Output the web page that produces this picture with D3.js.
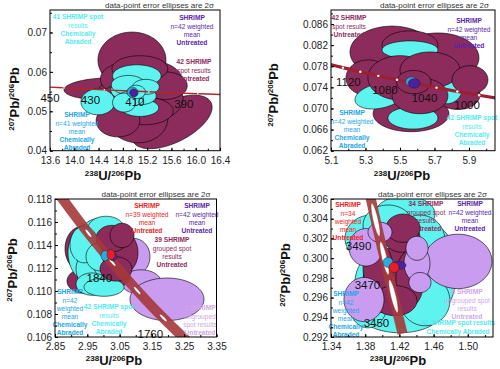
<!DOCTYPE html>
<html>
<head>
<meta charset="utf-8">
<script src="https://cdn.jsdelivr.net/npm/d3@7"></script>
<style>
  body { margin: 0; background: #fff; }
  text { font-family: Arial, "Liberation Sans", sans-serif; }
</style>
</head>
<body>
<script>
// ellipses are [x, y, half-width x, half-width y, rho]  (2 sigma)

// ---- panel 1 (~410 Ma) ----
var p1XTicks = [13.6, 14.0, 14.4, 14.8, 15.2, 15.6, 16.0, 16.4];
var p1YTicks = [0.04, 0.05, 0.06, 0.07];
var p1Ages = [460, 450, 430, 410, 390, 380];
var p1ConX = [13.520, 13.831, 14.497, 15.228, 16.034, 16.469];
var p1ConY = [0.05620, 0.05594, 0.05544, 0.05494, 0.05446, 0.05421];
var p1Labels = [450, 430, 410, 390];
var p1Untreated = [
  [14.95, 0.0630, 0.56, 0.0071, 0],
  [14.54, 0.0557, 0.71, 0.0028, 0.1],
  [15.61, 0.0473, 0.66, 0.0068, 0.55],
  [15.05, 0.0481, 0.49, 0.0061, 0],
  [15.25, 0.0577, 0.53, 0.0051, 0],
  [15.00, 0.0539, 0.63, 0.0056, 0],
  [15.38, 0.0532, 0.41, 0.0051, 0],
  [14.84, 0.0582, 0.41, 0.0041, 0],
  [15.17, 0.0501, 0.46, 0.0035, 0],
  [15.50, 0.0565, 0.36, 0.0035, 0],
  [14.75, 0.0522, 0.33, 0.0046, 0],
  [15.08, 0.0608, 0.46, 0.0033, 0],
  [14.72, 0.0476, 0.36, 0.0041, 0]
];
var p1Abraded = [
  [14.39, 0.0524, 0.28, 0.0033, 0],
  [15.03, 0.0590, 0.40, 0.0028, 0],
  [15.08, 0.0509, 0.31, 0.0022, 0],
  [14.97, 0.0554, 0.37, 0.0029, 0],
  [14.89, 0.0567, 0.28, 0.0024, 0],
  [15.10, 0.0539, 0.25, 0.0022, 0],
  [14.92, 0.0532, 0.22, 0.0019, 0],
  [15.18, 0.0562, 0.22, 0.0019, 0],
  [14.82, 0.0522, 0.19, 0.0024, 0],
  [15.02, 0.0549, 0.15, 0.0017, 0]
];
var p1Means = [
  [14.96, 0.05480, 0.09, 0.0013, 0],
  [14.98, 0.05468, 0.066, 0.0010, 0]
];

// ---- panel 2 (~1060 Ma) ----
var p2XTicks = [5.1, 5.3, 5.5, 5.7, 5.9];
var p2YTicks = [0.062, 0.066, 0.070, 0.074, 0.078, 0.082, 0.086];
var p2Ages = [1160, 1140, 1120, 1100, 1080, 1060, 1040, 1020, 1000, 960];
var p2ConX = [5.0720, 5.1693, 5.2700, 5.3744, 5.4826, 5.5956, 5.7118, 5.8329, 5.9589, 6.2272];
var p2ConY = [0.07851, 0.07773, 0.07695, 0.07618, 0.07543, 0.07469, 0.07394, 0.07321, 0.07250, 0.07109];
var p2Labels = [1120, 1080, 1040, 1000];
var p2Untreated = [
  [5.454, 0.0807, 0.244, 0.0049, 0],
  [5.720, 0.0796, 0.238, 0.0047, 0],
  [5.564, 0.0690, 0.220, 0.0034, 0],
  [5.836, 0.0726, 0.128, 0.0028, 0],
  [5.315, 0.0758, 0.128, 0.0034, 0],
  [5.558, 0.0820, 0.162, 0.0027, 0]
];
var p2Abraded = [
  [5.384, 0.0724, 0.145, 0.0025, 0.3],
  [5.575, 0.0682, 0.145, 0.0021, 0],
  [5.773, 0.0743, 0.093, 0.0034, 0],
  [5.558, 0.0811, 0.162, 0.0017, 0],
  [5.645, 0.0763, 0.116, 0.0027, 0],
  [5.471, 0.0773, 0.104, 0.0019, 0]
];
var p2UntreatedTop = [
  [5.500, 0.0758, 0.186, 0.0042, 0],
  [5.674, 0.0773, 0.174, 0.0034, 0],
  [5.616, 0.0724, 0.162, 0.0034, 0],
  [5.906, 0.0754, 0.104, 0.0027, 0],
  [5.580, 0.0750, 0.100, 0.0022, 0]
];
var p2Means = [
  [5.568, 0.07507, 0.035, 0.0009, 0],
  [5.583, 0.07476, 0.035, 0.0009, 0]
];

// ---- panel 3 (~1840 Ma) ----
var p3XTicks = [2.85, 2.95, 3.05, 3.15, 3.25, 3.35];
var p3YTicks = [0.106, 0.108, 0.110, 0.112, 0.114, 0.116, 0.118];
var p3Ages = [1960, 1880, 1840, 1800, 1760, 1700];
var p3ConX = [2.8145, 2.9534, 3.0274, 3.1045, 3.1854, 3.3139];
var p3ConY = [0.12026, 0.11502, 0.11250, 0.11004, 0.10765, 0.10419];
var p3Labels = [1840, 1760];
var p3Ungrouped = [
  [3.0946, 0.11298, 0.0495, 0.00159, 0],
  [3.1163, 0.11078, 0.0619, 0.00106, 0],
  [3.1967, 0.10928, 0.1146, 0.00185, 0]
];
var p3UntreatedBack = [
  [2.9336, 0.11368, 0.0526, 0.00194, 0],
  [2.9398, 0.11086, 0.0526, 0.00106, 0],
  [3.0141, 0.11122, 0.0681, 0.00106, 0]
];
var p3Abraded = [
  [2.9522, 0.11333, 0.0619, 0.00247, 0],
  [2.9893, 0.11439, 0.0681, 0.00194, 0],
  [2.9769, 0.11192, 0.0619, 0.00176, 0],
  [3.0079, 0.11544, 0.0557, 0.00106, 0],
  [3.0203, 0.11245, 0.0526, 0.00150, 0],
  [2.9646, 0.11060, 0.0495, 0.00097, 0],
  [3.0017, 0.11033, 0.0619, 0.00079, 0],
  [2.9398, 0.11404, 0.0433, 0.00159, 0],
  [2.9893, 0.11298, 0.0433, 0.00123, 0],
  [3.0327, 0.11395, 0.0372, 0.00132, 0]
];
var p3Untreated = [
  [3.0512, 0.11333, 0.0557, 0.00194, 0],
  [3.0265, 0.11456, 0.0495, 0.00115, 0],
  [3.0389, 0.11192, 0.0495, 0.00106, 0],
  [3.0574, 0.11483, 0.0372, 0.00106, 0]
];
var p3Means = [
  [3.0048, 0.11307, 0.0124, 0.00044, 0],
  [3.0296, 0.11298, 0.0124, 0.00035, 0],
  [3.0234, 0.11316, 0.0124, 0.00044, 0]
];

// ---- panel 4 (~3470 Ma) ----
var p4XTicks = [1.34, 1.38, 1.42, 1.46, 1.50];
var p4YTicks = [0.292, 0.294, 0.296, 0.298, 0.300, 0.302, 0.304, 0.306];
var p4Ages = [3510, 3490, 3470, 3450, 3430];
var p4ConX = [1.38184, 1.39211, 1.40250, 1.41303, 1.42367];
var p4ConY = [0.30785, 0.30389, 0.29999, 0.29614, 0.29235];
var p4Labels = [3490, 3470, 3450];
var p4Abraded = [
  [1.4207, 0.29957, 0.0421, 0.00408, 0],
  [1.3868, 0.30202, 0.0304, 0.00235, 0],
  [1.4265, 0.30447, 0.0351, 0.00184, 0],
  [1.4581, 0.29876, 0.0292, 0.00459, 0],
  [1.4207, 0.29437, 0.0468, 0.00194, 0],
  [1.3833, 0.29569, 0.0234, 0.00276, 0],
  [1.4067, 0.30335, 0.0292, 0.00204, 0],
  [1.4441, 0.30182, 0.0292, 0.00255, 0],
  [1.3973, 0.29753, 0.0292, 0.00306, 0],
  [1.4499, 0.29569, 0.0292, 0.00255, 0]
];
var p4Untreated = [
  [1.4102, 0.29773, 0.0327, 0.00327, 0],
  [1.4230, 0.30212, 0.0211, 0.00153, 0],
  [1.4324, 0.29794, 0.0164, 0.00286, 0],
  [1.4242, 0.30304, 0.0199, 0.00143, 0],
  [1.3950, 0.29896, 0.0175, 0.00255, 0],
  [1.4149, 0.29569, 0.0257, 0.00153, 0]
];
var p4Ungrouped = [
  [1.4885, 0.29967, 0.0398, 0.00276, 0],
  [1.3786, 0.29580, 0.0234, 0.00224, 0],
  [1.3809, 0.30110, 0.0199, 0.00190, 0],
  [1.4406, 0.29947, 0.0152, 0.00184, 0],
  [1.4406, 0.30100, 0.0129, 0.00122, 0],
  [1.4441, 0.29753, 0.0129, 0.00102, 0],
  [1.3973, 0.30263, 0.0140, 0.00102, 0]
];
var p4Means = [
  [1.4067, 0.29957, 0.0058, 0.00051, 0],
  [1.4195, 0.29927, 0.0082, 0.00041, 0],
  [1.4137, 0.29906, 0.0058, 0.00051, 0]
];

var maroon = "#8c2c5c", cyan = "#5ef3ee", lilac = "#c99cf0",
    skyBlue = "#29abe2", purple = "#4e1f9e", red = "#ed1c24";
var txtCyan = "#52ecec", txtBlue = "#23a6e6", txtPurple = "#5a26aa",
    txtMaroon = "#8e2a5c", txtRed = "#ee1c24", txtLilac = "#d2a6ea";

var panels = [
  {id: 1, left: 50, top: 10, width: 170, height: 140.7,
   xDomain: [13.6, 16.4], yDomain: [0.04, 0.0757], xTicks: p1XTicks, yTicks: p1YTicks,
   xMinor: 0.2, yMinor: 0.005, xFormat: ".1f", yFormat: ".2f",
   layers: [[p1Untreated, maroon], [p1Abraded, cyan]],
   means: p1Means, meanFills: [skyBlue, purple],
   ages: p1Ages, conX: p1ConX, conY: p1ConY, labels: p1Labels, marks: [450, 430, 410, 390],
   band: {color: "#b02828", width: 1.4, mark: "dot", r: 0.9, markFill: "#ddd"},
   labelOff: [-14, 10],
   yTitle: [19, 99], xTitle: [113, 180],
   notes: [
     {x: 78, y: 17, color: txtCyan, lines: [["41 SHRIMP spot", 1], ["results", 0], ["Chemically", 1], ["Abraded", 1]]},
     {x: 192, y: 18, color: txtPurple, lines: [["SHRIMP", 1], ["n=42 weighted", 0], ["mean", 0], ["Untreated", 1]]},
     {x: 194, y: 62, color: txtMaroon, lines: [["42 SHRIMP", 1], ["spot results", 0], ["Untreated", 1]]},
     {x: 77, y: 115, color: txtBlue, lines: [["SHRIMP", 1], ["n=41 weighted", 0], ["mean", 0], ["Chemically", 1], ["Abraded", 1]]}
   ]},
  {id: 2, left: 331, top: 10, width: 164, height: 140.7,
   xDomain: [5.1, 6.051], yDomain: [0.062, 0.08865], xTicks: p2XTicks, yTicks: p2YTicks,
   xMinor: 0.1, yMinor: 0.002, xFormat: ".1f", yFormat: ".3f",
   layers: [[p2Untreated, maroon], [p2Abraded, cyan], [p2UntreatedTop, maroon]],
   means: p2Means, meanFills: [skyBlue, purple],
   ages: p2Ages, conX: p2ConX, conY: p2ConY, labels: p2Labels, marks: [1140, 1120, 1100, 1080, 1060, 1040, 1020, 1000],
   band: {color: "#9a2230", width: 3.2, mark: "dot", r: 1.2, markFill: "#fff"},
   labelOff: [-12, 10],
   yTitle: [278, 95], xTitle: [402, 180],
   notes: [
     {x: 349, y: 18, color: txtMaroon, lines: [["42 SHRIMP", 1], ["spot results", 0], ["Untreated", 1]]},
     {x: 469, y: 21, color: txtPurple, lines: [["SHRIMP", 1], ["n=42 weighted", 0], ["mean", 0], ["Untreated", 1]]},
     {x: 352, y: 113, color: txtBlue, lines: [["SHRIMP", 1], ["n=42 weighted", 0], ["mean", 0], ["Chemically", 1], ["Abraded", 1]]},
     {x: 472, y: 118, color: txtCyan, lines: [["42 SHRIMP spot", 1], ["results", 0], ["Chemically", 1], ["Abraded", 1]]}
   ]},
  {id: 3, left: 55, top: 199, width: 161.5, height: 138,
   xDomain: [2.85, 3.35], yDomain: [0.106, 0.118], xTicks: p3XTicks, yTicks: p3YTicks,
   xMinor: 0.05, yMinor: 0.001, xFormat: ".2f", yFormat: ".3f",
   layers: [[p3Ungrouped, lilac], [p3UntreatedBack, maroon], [p3Abraded, cyan], [p3Untreated, maroon]],
   means: p3Means, meanFills: [skyBlue, purple, red],
   ages: p3Ages, conX: p3ConX, conY: p3ConY, labels: p3Labels, marks: [1880, 1840, 1800, 1760],
   band: {color: "#a5383a", width: 10, opacity: 0.9, mark: "ellipse", rx: 5, ry: 1.3, markFill: "#fff"},
   labelOff: [-13, 16],
   yTitle: [17, 270], xTitle: [114, 365],
   notes: [
     {x: 147, y: 206, color: txtRed, lines: [["SHRIMP", 1], ["n=39 weighted", 0], ["mean", 0], ["Untreated", 1]]},
     {x: 197, y: 206, color: txtPurple, lines: [["SHRIMP", 1], ["n=42 weighted", 0], ["mean", 0], ["Untreated", 1]]},
     {x: 172, y: 240, color: txtMaroon, lines: [["39 SHRIMP", 1], ["grouped spot", 0], ["results", 0], ["Untreated", 1]]},
     {x: 70, y: 292, color: txtBlue, lines: [["SHRIMP", 1], ["n=42", 0], ["weighted", 0], ["mean", 0], ["Chemically", 1], ["Abraded", 1]]},
     {x: 109, y: 307, color: txtCyan, lines: [["42 SHRIMP spot", 1], ["results", 0], ["Chemically", 1], ["Abraded", 1]]},
     {x: 200, y: 308, color: txtLilac, lines: [["3 SHRIMP", 1], ["ungrouped", 0], ["spot results", 0], ["Untreated", 1]]}
   ]},
  {id: 4, left: 331, top: 199, width: 162, height: 138,
   xDomain: [1.34, 1.5295], yDomain: [0.292, 0.306], xTicks: p4XTicks, yTicks: p4YTicks,
   xMinor: 0.02, yMinor: 0.001, xFormat: ".2f", yFormat: ".3f",
   layers: [[p4Abraded, cyan], [p4Untreated, maroon], [p4Ungrouped, lilac]],
   means: p4Means, meanFills: [skyBlue, purple, red],
   ages: p4Ages, conX: p4ConX, conY: p4ConY, labels: p4Labels, marks: [3490, 3470, 3450],
   band: {color: "#a5383a", width: 10, opacity: 0.9, mark: "ellipse", rx: 17, ry: 2.6, markFill: "#fff"},
   labelOff: [-17, 26.5],
   yTitle: [290, 275], xTitle: [398, 365],
   notes: [
     {x: 348, y: 205, color: txtRed, lines: [["SHRIMP", 1], ["n=34", 0], ["weighted", 0], ["mean", 0], ["Untreated", 1]]},
     {x: 426, y: 204, color: txtMaroon, lines: [["34 SHRIMP", 1], ["grouped spot", 0], ["results", 0], ["Untreated", 1]]},
     {x: 470, y: 204, color: txtPurple, lines: [["SHRIMP", 1], ["n=42 weighted", 0], ["mean", 0], ["Untreated", 1]]},
     {x: 346, y: 294, color: txtBlue, lines: [["SHRIMP", 1], ["n=42", 0], ["weighted", 0], ["mean", 0], ["Chemically", 1], ["Abraded", 1]]},
     {x: 467, y: 292, color: txtLilac, lines: [["8 SHRIMP", 1], ["ungrouped spot", 0], ["results", 0], ["Untreated", 1]]},
     {x: 458, y: 323, color: txtCyan, lines: [["42 SHRIMP spot results", 1], ["Chemically Abraded", 1]]}
   ]}
];

var svg = d3.select("body").append("svg")
    .attr("width", 500)
    .attr("height", 369);

var defs = svg.append("defs");

function ellipsePath(e, x, y) {
  var k = Math.sqrt(1 - e[4] * e[4]);
  var pts = d3.range(72).map(function (i) {
    var t = i / 72 * 2 * Math.PI;
    return [x(e[0] + e[2] * Math.cos(t)), y(e[1] + e[3] * (e[4] * Math.cos(t) + k * Math.sin(t)))];
  });
  return d3.line().curve(d3.curveLinearClosed)(pts);
}

function minorTicks(ticks, step, domain) {
  var out = [];
  for (var v = ticks[0] - step * 40; v <= domain[1] + 1e-9; v += step) {
    if (v >= domain[0] - 1e-9) out.push(+v.toFixed(6));
  }
  return out;
}

panels.forEach(function (p) {
  var x = d3.scaleLinear().domain(p.xDomain).range([p.left, p.left + p.width]);
  var y = d3.scaleLinear().domain(p.yDomain).range([p.top + p.height, p.top]);
  var g = svg.append("g");

  defs.append("clipPath").attr("id", "clip" + p.id)
    .append("rect")
    .attr("x", p.left).attr("y", p.top)
    .attr("width", p.width).attr("height", p.height);

  var plot = g.append("g").attr("clip-path", "url(#clip" + p.id + ")");

  p.layers.forEach(function (layer) {
    plot.append("g").selectAll("path")
      .data(layer[0])
      .enter().append("path")
      .attr("d", function (e) { return ellipsePath(e, x, y); })
      .attr("fill", layer[1])
      .attr("stroke", "#000")
      .attr("stroke-width", 0.6);
  });

  // concordia curve
  var con = p.ages.map(function (a, i) { return [x(p.conX[i]), y(p.conY[i])]; });
  plot.append("path")
    .attr("d", d3.line().curve(d3.curveCatmullRom)(con))
    .attr("fill", "none")
    .attr("stroke", p.band.color)
    .attr("stroke-width", p.band.width)
    .attr("stroke-opacity", p.band.opacity || 1);

  p.marks.forEach(function (a) {
    var i = p.ages.indexOf(a);
    var cx = x(p.conX[i]), cy = y(p.conY[i]);
    if (p.band.mark === "dot") {
      plot.append("circle").attr("cx", cx).attr("cy", cy).attr("r", p.band.r)
        .attr("fill", p.band.markFill);
    } else {
      var ang = Math.atan2(y(p.conY[i + 1]) - y(p.conY[i - 1]), x(p.conX[i + 1]) - x(p.conX[i - 1])) * 180 / Math.PI;
      plot.append("ellipse")
        .attr("transform", "translate(" + cx + "," + cy + ") rotate(" + ang + ")")
        .attr("rx", p.band.rx).attr("ry", p.band.ry)
        .attr("fill", p.band.markFill)
        .attr("stroke", "#7a2a2a").attr("stroke-width", 0.4);
    }
  });

  // weighted means
  plot.append("g").selectAll("path")
    .data(p.means)
    .enter().append("path")
    .attr("d", function (e) { return ellipsePath(e, x, y); })
    .attr("fill", function (e, i) { return p.meanFills[i]; })
    .attr("stroke", "#222")
    .attr("stroke-width", 0.5);

  // age labels
  g.selectAll(".age" + p.id)
    .data(p.labels)
    .enter().append("text")
    .attr("x", function (a) { return x(p.conX[p.ages.indexOf(a)]) + p.labelOff[0]; })
    .attr("y", function (a) { return y(p.conY[p.ages.indexOf(a)]) + p.labelOff[1]; })
    .attr("dy", "0.35em")
    .attr("text-anchor", "middle")
    .attr("font-size", 11.5)
    .attr("fill", "#111")
    .text(function (a) { return a; });

  // notes
  p.notes.forEach(function (n) {
    n.lines.forEach(function (l, i) {
      g.append("text")
        .attr("x", n.x)
        .attr("y", n.y + i * 8.2)
        .attr("dy", "0.35em")
        .attr("text-anchor", "middle")
        .attr("font-size", 6.6)
        .attr("font-weight", l[1] ? "bold" : "normal")
        .attr("fill", n.color)
        .text(l[0]);
    });
  });

  // axes
  g.append("g")
    .attr("transform", "translate(0," + (p.top + p.height) + ")")
    .call(d3.axisBottom(x).tickValues(p.xTicks).tickFormat(d3.format(p.xFormat))
      .tickSizeInner(-3).tickSizeOuter(0).tickPadding(6));
  g.append("g")
    .attr("transform", "translate(0," + (p.top + p.height) + ")")
    .call(d3.axisBottom(x).tickValues(minorTicks(p.xTicks, p.xMinor, p.xDomain)).tickFormat("")
      .tickSizeInner(-2).tickSizeOuter(0));
  g.append("g")
    .attr("transform", "translate(" + p.left + ",0)")
    .call(d3.axisLeft(y).tickValues(p.yTicks).tickFormat(d3.format(p.yFormat))
      .tickSizeInner(-3).tickSizeOuter(0).tickPadding(3));
  g.append("g")
    .attr("transform", "translate(" + p.left + ",0)")
    .call(d3.axisLeft(y).tickValues(minorTicks(p.yTicks, p.yMinor, p.yDomain)).tickFormat("")
      .tickSizeInner(-2).tickSizeOuter(0));
  g.selectAll(".domain").remove();
  g.selectAll(".tick text").attr("font-size", 10).attr("fill", "#222")
    .attr("font-family", "Arial, 'Liberation Sans', sans-serif");

  g.append("rect")
    .attr("x", p.left).attr("y", p.top)
    .attr("width", p.width).attr("height", p.height)
    .attr("fill", "none").attr("stroke", "#000").attr("stroke-width", 1);

  // plot caption
  g.append("text")
    .attr("x", p.left + p.width - 6)
    .attr("y", p.top - 2.5)
    .attr("text-anchor", "end")
    .attr("font-size", 8)
    .attr("fill", "#333")
    .text("data-point error ellipses are 2\u03c3");

  // axis titles
  var xt = g.append("text")
    .attr("x", p.xTitle[0]).attr("y", p.xTitle[1])
    .attr("text-anchor", "middle")
    .attr("font-weight", "bold")
    .attr("font-size", 13)
    .attr("fill", "#111");
  xt.append("tspan").attr("font-size", 8).attr("dy", -4).text("238");
  xt.append("tspan").attr("dy", 4).text("U/");
  xt.append("tspan").attr("font-size", 8).attr("dy", -4).text("206");
  xt.append("tspan").attr("dy", 4).text("Pb");

  var yt = g.append("text")
    .attr("transform", "translate(" + p.yTitle[0] + "," + p.yTitle[1] + ") rotate(-90)")
    .attr("text-anchor", "middle")
    .attr("font-weight", "bold")
    .attr("font-size", 13)
    .attr("fill", "#111");
  yt.append("tspan").attr("font-size", 8).attr("dy", -5).text("207");
  yt.append("tspan").attr("dy", 5).text("Pb/");
  yt.append("tspan").attr("font-size", 8).attr("dy", -5).text("206");
  yt.append("tspan").attr("dy", 5).text("Pb");
});
</script>
</body>
</html>
